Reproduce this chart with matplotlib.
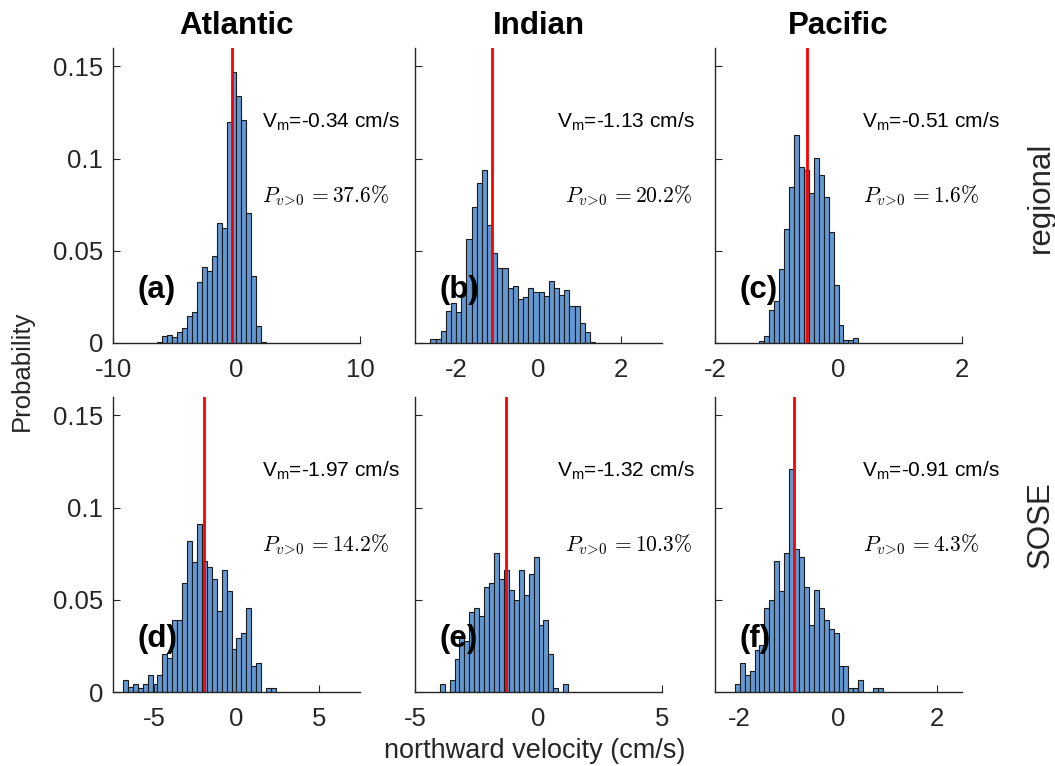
import numpy as np
import matplotlib
matplotlib.use('Agg')
import matplotlib.pyplot as plt

plt.rcParams['font.family'] = ['Liberation Sans', 'DejaVu Sans']
plt.rcParams['axes.unicode_minus'] = False
plt.rcParams['mathtext.fontset'] = 'custom'
plt.rcParams['mathtext.rm'] = 'Liberation Sans'
plt.rcParams['mathtext.it'] = 'Liberation Sans:italic'

# ---- data ----
oceans = ['Atlantic', 'Indian', 'Pacific']
rows = ['regional', 'SOSE']
labels = ['(a)', '(b)', '(c)', '(d)', '(e)', '(f)']

# bin start, bin width per panel
bin_start = [-6.4, -2.625, -1.28, -6.9, -4.0, -2.1]
bin_width = [0.4, 0.125, 0.08, 0.3, 0.2, 0.1]

prob_a = [0.0005, 0.004, 0.0045, 0.003, 0.006, 0.008, 0.0145, 0.017, 0.033, 0.041, 0.039,
          0.047, 0.065, 0.0625, 0.120, 0.147, 0.134, 0.121, 0.0705, 0.0365, 0.009, 0.0004]
prob_b = [0.002, 0.002, 0.0063, 0.0175, 0.0215, 0.017, 0.0266, 0.0564, 0.074, 0.0866, 0.0937,
          0.064, 0.049, 0.0405, 0.0405, 0.0297, 0.031, 0.0239, 0.0248, 0.0298, 0.0275, 0.0275,
          0.0257, 0.0338, 0.0298, 0.0262, 0.0288, 0.0203, 0.0199, 0.0107, 0.0061, 0.0005]
prob_c = [0.0013, 0.0036, 0.018, 0.023, 0.0404, 0.062, 0.0845, 0.113, 0.0957, 0.094, 0.0816,
          0.1005, 0.091, 0.079, 0.060, 0.0316, 0.0097, 0.0016, 0.0016, 0.0027]
prob_d = [0.0067, 0.0027, 0.0045, 0.0022, 0.0045, 0.009, 0.0045, 0.009, 0.0208, 0.0182, 0.0388,
          0.0388, 0.0592, 0.0821, 0.0706, 0.0913, 0.0708, 0.0677, 0.0614, 0.0439, 0.0662, 0.0549,
          0.0231, 0.0294, 0.032, 0.0457, 0.0139, 0.0159, 0.0, 0.0023, 0.0023]
prob_e = [0.0045, 0.0, 0.0067, 0.018, 0.0298, 0.0277, 0.0434, 0.0457, 0.0412, 0.057, 0.0593,
          0.0756, 0.0615, 0.0664, 0.0552, 0.050, 0.0664, 0.0528, 0.0642, 0.0732, 0.0365, 0.0389,
          0.0204, 0.0022, 0.0, 0.0045]
prob_f = [0.0045, 0.0159, 0.009, 0.0114, 0.023, 0.0253, 0.0456, 0.050, 0.0709, 0.0548, 0.0756,
          0.1211, 0.0777, 0.0732, 0.057, 0.0365, 0.0552, 0.0457, 0.0389, 0.0344, 0.032, 0.0139,
          0.0139, 0.0023, 0.0023, 0.0067, 0.0, 0.0, 0.0023, 0.0023]
probs = [prob_a, prob_b, prob_c, prob_d, prob_e, prob_f]

v_mean = [-0.34, -1.13, -0.51, -1.97, -1.32, -0.91]
p_pos = [37.6, 20.2, 1.6, 14.2, 10.3, 4.3]

xlims = [(-10, 10), (-3, 3), (-2, 2), (-7.5, 7.5), (-5, 5), (-2.5, 2.5)]
xticks = [[-10, 0, 10], [-2, 0, 2], [-2, 0, 2], [-5, 0, 5], [-5, 0, 5], [-2, 0, 2]]
yticks = [0, 0.05, 0.1, 0.15]
ytick_labels = ['0', '0.05', '0.1', '0.15']

# ---- layout (figure fractions) ----
W, H = 1055, 766
col_left = [113, 415, 715]
col_w = 247
row_bottom = [343, 692]
row_h = 295
vm_x = [0.603, 0.575, 0.595]
pp_x = [0.603, 0.607, 0.600]

bar_color = '#6398d2'
tick_color = '#262626'

fig = plt.figure(figsize=(W / 100, H / 100), dpi=100)

for k in range(6):
    r, c = divmod(k, 3)
    ax = fig.add_axes([col_left[c] / W, 1 - row_bottom[r] / H, col_w / W, row_h / H])
    n = len(probs[k])
    edges = bin_start[k] + bin_width[k] * np.arange(n)
    ax.bar(edges, probs[k], width=bin_width[k], align='edge', color=bar_color,
           edgecolor='#1a1a1a', linewidth=0.8)
    ax.axvline(v_mean[k], color='red', lw=2, zorder=5)

    ax.set_xlim(xlims[k])
    ax.set_ylim(0, 0.16)
    ax.set_xticks(xticks[k])
    ax.set_yticks(yticks)
    if c == 0:
        ax.set_yticklabels(ytick_labels)
    else:
        ax.set_yticklabels([])
    ax.spines['top'].set_visible(False)
    ax.spines['right'].set_visible(False)
    for s in ['left', 'bottom']:
        ax.spines[s].set_linewidth(1.0)
        ax.spines[s].set_color('#262626')
    ax.tick_params(direction='in', length=5, width=0.8, labelsize=18.5,
                   colors=tick_color)
    ax.tick_params(axis='x', pad=11)
    ax.tick_params(axis='y', pad=7)

    ax.text(vm_x[c], 0.75, r'$\mathrm{V}_{\mathrm{m}}$=%.2f cm/s' % v_mean[k],
            transform=ax.transAxes, fontsize=15, va='center', ha='left')
    ax.text(pp_x[c], 0.50, r'$P_{v\!>\!0}\,{=}%.1f\%%$' % p_pos[k],
            transform=ax.transAxes, fontsize=15.5, va='center', ha='left',
            math_fontfamily='cm')
    ax.text(0.10, 0.18, labels[k], transform=ax.transAxes, fontsize=22.5,
            fontweight='bold', va='center', ha='left', zorder=6)

    if r == 0:
        ax.set_title(oceans[c], fontsize=22.5, fontweight='bold', pad=10)

# row labels and shared axis labels
fig.text(1041 / W, 1 - 197 / H, rows[0], rotation=90, fontsize=22.5,
         ha='center', va='center', color=tick_color)
fig.text(1041 / W, 1 - 525 / H, rows[1], rotation=90, fontsize=22.5,
         ha='center', va='center', color=tick_color)
fig.text(22 / W, 1 - 371 / H, 'Probability', rotation=90, fontsize=18.5,
         ha='center', va='center', color=tick_color)
fig.text(535 / W, 1 - 751 / H, 'northward velocity (cm/s)', fontsize=19.5,
         ha='center', va='center', color=tick_color)

fig.savefig('out.png', dpi=100)
